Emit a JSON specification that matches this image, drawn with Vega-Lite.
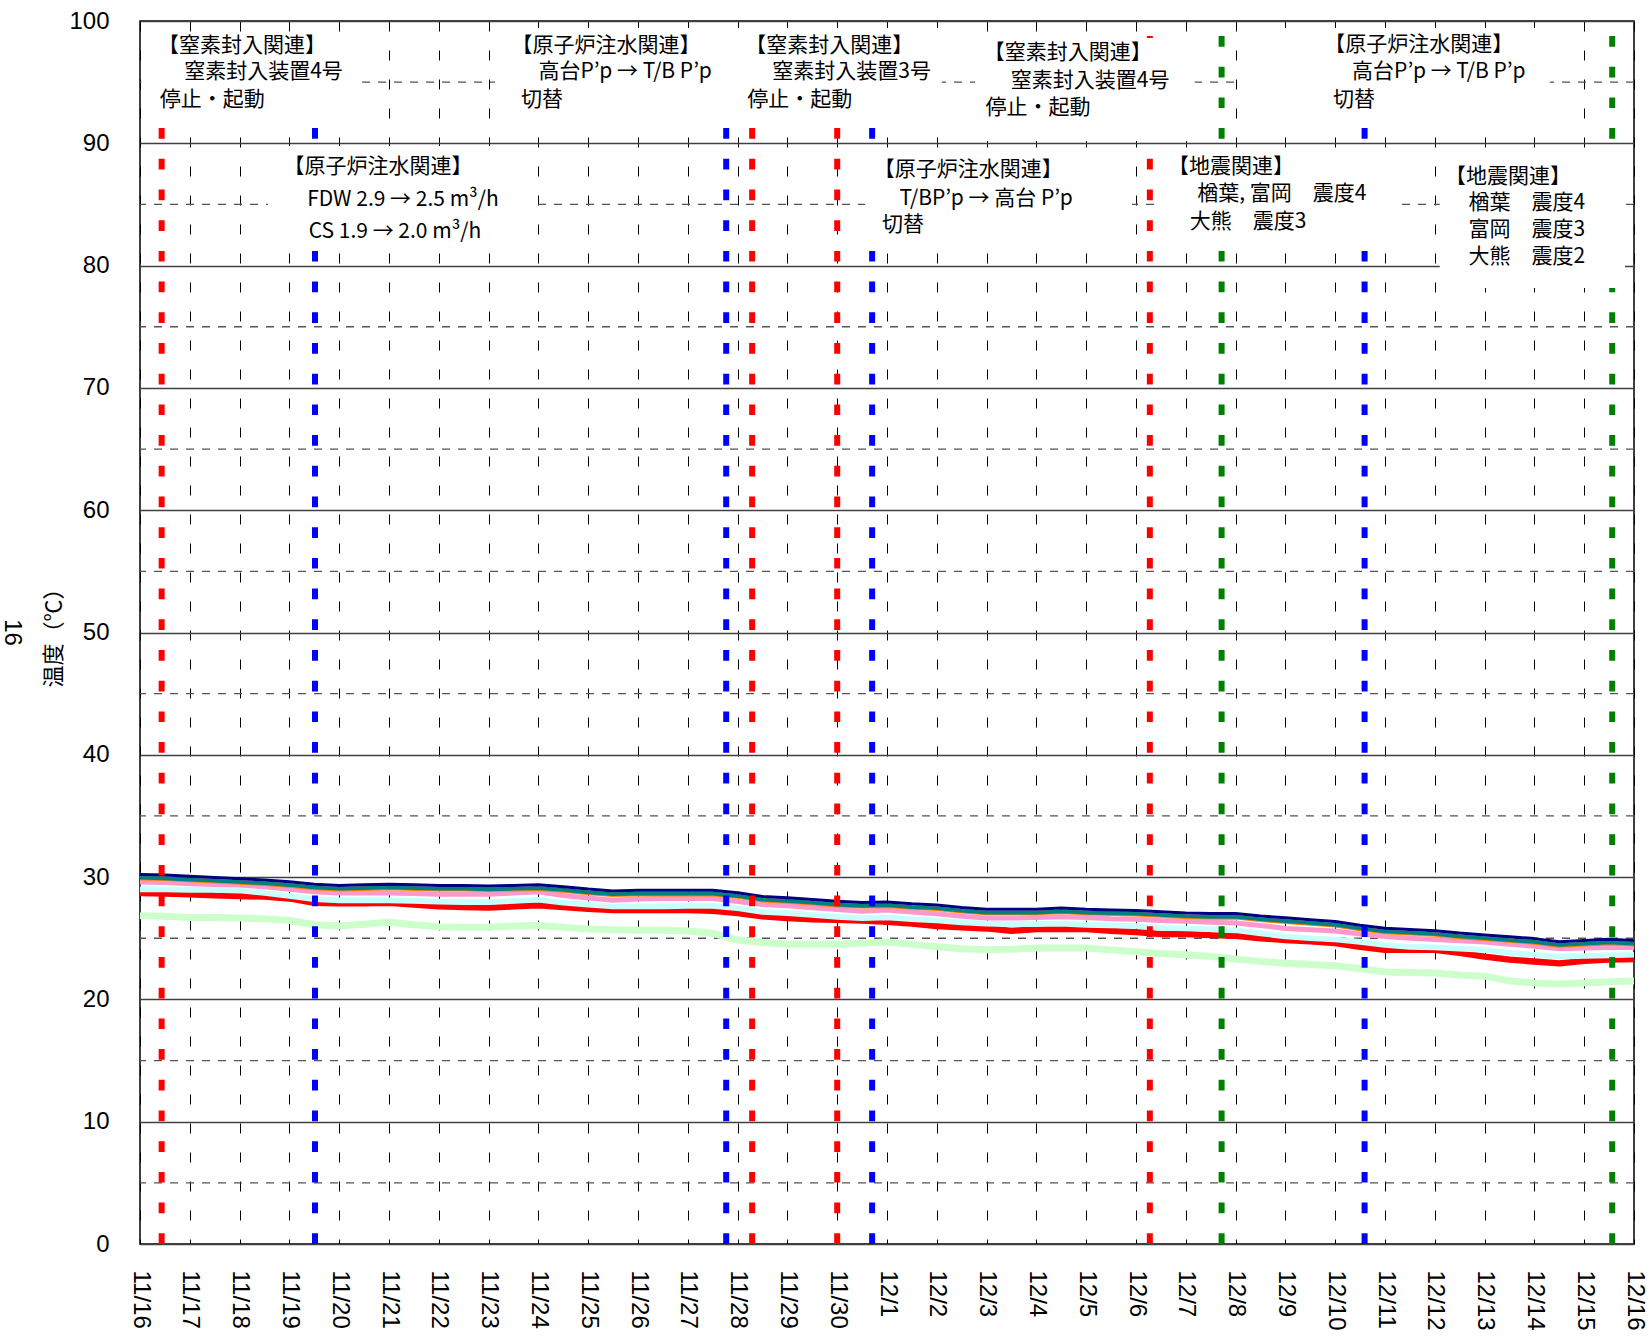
{
  "$schema": "https://vega.github.io/schema/vega-lite/v6.json",
  "width": 1494,
  "height": 1223,
  "autosize": "none",
  "padding": {"left": 140, "top": 21, "right": 17, "bottom": 96},
  "background": "white",
  "title": {"text": "16", "orient": "left", "angle": 90, "baseline": "middle", "anchor": "middle", "offset": 6, "fontSize": 24, "font": "Liberation Sans", "fontWeight": "normal", "color": "#000"},
  "config": {
    "view": {"stroke": "#000", "strokeWidth": 1.5},
    "axis": {"labelColor": "#000", "titleColor": "#000"}
  },
  "resolve": {"scale": {"color": "independent", "size": "independent"}},
  "datasets": {
    "series": [
      {"t":"2013-11-16T00:00","green":26.85,"red":28.7,"cyan":29.0,"pink":29.6,"orange":29.9,"teal":29.95,"navy":30.22},
      {"t":"2013-11-16T12:00","green":26.8,"red":28.65,"cyan":29.0,"pink":29.55,"orange":29.85,"teal":29.9,"navy":30.17},
      {"t":"2013-11-17T00:00","green":26.7,"red":28.6,"cyan":28.95,"pink":29.45,"orange":29.75,"teal":29.8,"navy":30.07},
      {"t":"2013-11-17T12:00","green":26.7,"red":28.5,"cyan":28.95,"pink":29.4,"orange":29.65,"teal":29.7,"navy":29.97},
      {"t":"2013-11-18T00:00","green":26.65,"red":28.45,"cyan":28.9,"pink":29.35,"orange":29.55,"teal":29.6,"navy":29.87},
      {"t":"2013-11-18T12:00","green":26.6,"red":28.4,"cyan":28.7,"pink":29.2,"orange":29.45,"teal":29.5,"navy":29.77},
      {"t":"2013-11-19T00:00","green":26.45,"red":28.25,"cyan":28.45,"pink":29.0,"orange":29.3,"teal":29.35,"navy":29.62},
      {"t":"2013-11-19T12:00","green":26.1,"red":27.9,"cyan":28.2,"pink":28.8,"orange":29.1,"teal":29.15,"navy":29.42},
      {"t":"2013-11-20T00:00","green":26.0,"red":27.85,"cyan":28.1,"pink":28.7,"orange":29.0,"teal":29.05,"navy":29.32},
      {"t":"2013-11-20T12:00","green":26.15,"red":27.85,"cyan":28.1,"pink":28.7,"orange":29.05,"teal":29.1,"navy":29.37},
      {"t":"2013-11-21T00:00","green":26.3,"red":27.9,"cyan":28.1,"pink":28.7,"orange":29.1,"teal":29.15,"navy":29.42},
      {"t":"2013-11-21T12:00","green":26.1,"red":27.75,"cyan":28.05,"pink":28.65,"orange":29.05,"teal":29.1,"navy":29.37},
      {"t":"2013-11-22T00:00","green":25.95,"red":27.6,"cyan":28.0,"pink":28.6,"orange":29.0,"teal":29.05,"navy":29.32},
      {"t":"2013-11-22T12:00","green":25.9,"red":27.55,"cyan":27.95,"pink":28.6,"orange":29.0,"teal":29.05,"navy":29.32},
      {"t":"2013-11-23T00:00","green":25.9,"red":27.5,"cyan":27.95,"pink":28.6,"orange":28.95,"teal":29.0,"navy":29.27},
      {"t":"2013-11-23T12:00","green":26.0,"red":27.6,"cyan":28.05,"pink":28.7,"orange":29.0,"teal":29.05,"navy":29.32},
      {"t":"2013-11-24T00:00","green":26.05,"red":27.7,"cyan":28.15,"pink":28.8,"orange":29.05,"teal":29.1,"navy":29.37},
      {"t":"2013-11-24T12:00","green":25.9,"red":27.55,"cyan":27.9,"pink":28.5,"orange":28.9,"teal":28.95,"navy":29.22},
      {"t":"2013-11-25T00:00","green":25.75,"red":27.4,"cyan":27.75,"pink":28.3,"orange":28.7,"teal":28.75,"navy":29.02},
      {"t":"2013-11-25T12:00","green":25.7,"red":27.3,"cyan":27.6,"pink":28.1,"orange":28.55,"teal":28.6,"navy":28.87},
      {"t":"2013-11-26T00:00","green":25.65,"red":27.3,"cyan":27.6,"pink":28.2,"orange":28.6,"teal":28.65,"navy":28.92},
      {"t":"2013-11-26T12:00","green":25.65,"red":27.3,"cyan":27.6,"pink":28.25,"orange":28.6,"teal":28.65,"navy":28.92},
      {"t":"2013-11-27T00:00","green":25.6,"red":27.3,"cyan":27.65,"pink":28.25,"orange":28.6,"teal":28.65,"navy":28.92},
      {"t":"2013-11-27T12:00","green":25.4,"red":27.25,"cyan":27.65,"pink":28.25,"orange":28.6,"teal":28.65,"navy":28.92},
      {"t":"2013-11-28T00:00","green":24.85,"red":27.05,"cyan":27.45,"pink":28.0,"orange":28.4,"teal":28.45,"navy":28.72},
      {"t":"2013-11-28T12:00","green":24.65,"red":26.8,"cyan":27.15,"pink":27.75,"orange":28.1,"teal":28.15,"navy":28.42},
      {"t":"2013-11-29T00:00","green":24.5,"red":26.65,"cyan":27.05,"pink":27.65,"orange":28.0,"teal":28.05,"navy":28.32},
      {"t":"2013-11-29T12:00","green":24.5,"red":26.55,"cyan":26.9,"pink":27.5,"orange":27.85,"teal":27.9,"navy":28.17},
      {"t":"2013-11-30T00:00","green":24.5,"red":26.5,"cyan":26.75,"pink":27.35,"orange":27.7,"teal":27.75,"navy":28.02},
      {"t":"2013-11-30T12:00","green":24.6,"red":26.45,"cyan":26.65,"pink":27.2,"orange":27.6,"teal":27.65,"navy":27.92},
      {"t":"2013-12-01T00:00","green":24.7,"red":26.35,"cyan":26.7,"pink":27.3,"orange":27.65,"teal":27.7,"navy":27.97},
      {"t":"2013-12-01T12:00","green":24.5,"red":26.2,"cyan":26.55,"pink":27.15,"orange":27.5,"teal":27.55,"navy":27.82},
      {"t":"2013-12-02T00:00","green":24.3,"red":26.0,"cyan":26.45,"pink":27.0,"orange":27.4,"teal":27.45,"navy":27.72},
      {"t":"2013-12-02T12:00","green":24.15,"red":25.9,"cyan":26.3,"pink":26.8,"orange":27.2,"teal":27.25,"navy":27.52},
      {"t":"2013-12-03T00:00","green":24.05,"red":25.8,"cyan":26.2,"pink":26.65,"orange":27.05,"teal":27.1,"navy":27.37},
      {"t":"2013-12-03T12:00","green":24.1,"red":25.6,"cyan":26.15,"pink":26.65,"orange":27.05,"teal":27.1,"navy":27.37},
      {"t":"2013-12-04T00:00","green":24.2,"red":25.75,"cyan":26.15,"pink":26.7,"orange":27.05,"teal":27.1,"navy":27.37},
      {"t":"2013-12-04T12:00","green":24.2,"red":25.75,"cyan":26.2,"pink":26.75,"orange":27.15,"teal":27.2,"navy":27.47},
      {"t":"2013-12-05T00:00","green":24.2,"red":25.75,"cyan":26.1,"pink":26.7,"orange":27.05,"teal":27.1,"navy":27.37},
      {"t":"2013-12-05T12:00","green":24.05,"red":25.6,"cyan":26.05,"pink":26.6,"orange":27.0,"teal":27.05,"navy":27.32},
      {"t":"2013-12-06T00:00","green":23.9,"red":25.5,"cyan":26.0,"pink":26.55,"orange":26.95,"teal":27.0,"navy":27.27},
      {"t":"2013-12-06T12:00","green":23.75,"red":25.35,"cyan":25.85,"pink":26.45,"orange":26.85,"teal":26.9,"navy":27.17},
      {"t":"2013-12-07T00:00","green":23.65,"red":25.35,"cyan":25.8,"pink":26.4,"orange":26.75,"teal":26.8,"navy":27.07},
      {"t":"2013-12-07T12:00","green":23.5,"red":25.25,"cyan":25.75,"pink":26.3,"orange":26.7,"teal":26.75,"navy":27.02},
      {"t":"2013-12-08T00:00","green":23.3,"red":25.2,"cyan":25.65,"pink":26.25,"orange":26.7,"teal":26.75,"navy":27.02},
      {"t":"2013-12-08T12:00","green":23.1,"red":25.0,"cyan":25.4,"pink":26.05,"orange":26.5,"teal":26.55,"navy":26.82},
      {"t":"2013-12-09T00:00","green":22.95,"red":24.85,"cyan":25.15,"pink":25.8,"orange":26.35,"teal":26.4,"navy":26.67},
      {"t":"2013-12-09T12:00","green":22.85,"red":24.75,"cyan":25.0,"pink":25.7,"orange":26.2,"teal":26.25,"navy":26.52},
      {"t":"2013-12-10T00:00","green":22.75,"red":24.6,"cyan":24.9,"pink":25.6,"orange":26.05,"teal":26.1,"navy":26.37},
      {"t":"2013-12-10T12:00","green":22.5,"red":24.3,"cyan":24.7,"pink":25.35,"orange":25.75,"teal":25.8,"navy":26.07},
      {"t":"2013-12-11T00:00","green":22.25,"red":24.05,"cyan":24.45,"pink":25.15,"orange":25.5,"teal":25.55,"navy":25.82},
      {"t":"2013-12-11T12:00","green":22.2,"red":24.05,"cyan":24.3,"pink":25.0,"orange":25.4,"teal":25.45,"navy":25.72},
      {"t":"2013-12-12T00:00","green":22.15,"red":24.05,"cyan":24.25,"pink":24.9,"orange":25.3,"teal":25.35,"navy":25.62},
      {"t":"2013-12-12T12:00","green":22.0,"red":23.8,"cyan":24.15,"pink":24.8,"orange":25.1,"teal":25.15,"navy":25.42},
      {"t":"2013-12-13T00:00","green":21.9,"red":23.5,"cyan":24.05,"pink":24.7,"orange":24.95,"teal":25.0,"navy":25.27},
      {"t":"2013-12-13T12:00","green":21.5,"red":23.25,"cyan":23.8,"pink":24.5,"orange":24.8,"teal":24.85,"navy":25.12},
      {"t":"2013-12-14T00:00","green":21.35,"red":23.1,"cyan":23.65,"pink":24.35,"orange":24.65,"teal":24.7,"navy":24.97},
      {"t":"2013-12-14T12:00","green":21.25,"red":22.95,"cyan":23.5,"pink":24.15,"orange":24.4,"teal":24.45,"navy":24.72},
      {"t":"2013-12-15T00:00","green":21.35,"red":23.15,"cyan":23.55,"pink":24.2,"orange":24.5,"teal":24.55,"navy":24.82},
      {"t":"2013-12-15T12:00","green":21.45,"red":23.25,"cyan":23.6,"pink":24.25,"orange":24.6,"teal":24.65,"navy":24.92},
      {"t":"2013-12-16T00:00","green":21.5,"red":23.3,"cyan":23.65,"pink":24.25,"orange":24.5,"teal":24.55,"navy":24.82}
    ],
    "events": [
      {"t":"2013-11-16T10:26","kind":"窒素"},
      {"t":"2013-11-19T12:20","kind":"注水"},
      {"t":"2013-11-27T18:30","kind":"注水"},
      {"t":"2013-11-28T07:00","kind":"窒素"},
      {"t":"2013-11-30T00:00","kind":"窒素"},
      {"t":"2013-11-30T16:50","kind":"注水"},
      {"t":"2013-12-06T06:40","kind":"窒素"},
      {"t":"2013-12-07T17:15","kind":"地震"},
      {"t":"2013-12-10T14:10","kind":"注水"},
      {"t":"2013-12-15T13:30","kind":"地震"}
    ],
    "boxes": [
      {"t1":"2013-11-16T00:40","t2":"2013-11-20T11:00","v1":91.25,"v2":99.1},
      {"t1":"2013-11-18T13:40","t2":"2013-11-23T23:20","v1":81.28,"v2":89.78},
      {"t1":"2013-11-23T03:07","t2":"2013-12-02T02:24","v1":91.25,"v2":99.43},
      {"t1":"2013-11-30T13:26","t2":"2013-12-05T22:05","v1":81.68,"v2":89.45},
      {"t1":"2013-12-02T18:29","t2":"2013-12-07T04:19","v1":90.19,"v2":98.61},
      {"t1":"2013-12-08T02:10","t2":"2013-12-14T07:26","v1":91.25,"v2":99.43},
      {"t1":"2013-12-06T12:00","t2":"2013-12-11T07:12","v1":81.68,"v2":89.45},
      {"t1":"2013-12-12T02:24","t2":"2013-12-15T19:41","v1":78.17,"v2":89.04}
    ],
    "notes": [
      {"t":"2013-11-18T01:12","v":97.96,"text":"【窒素封入関連】"},
      {"t":"2013-11-18T11:31","v":95.83,"text":"窒素封入装置4号"},
      {"t":"2013-11-17T10:48","v":93.54,"text":"停止・起動"},
      {"t":"2013-11-20T18:43","v":88.06,"text":"【原子炉注水関連】"},
      {"t":"2013-11-21T06:43","v":85.36,"text":"FDW 2.9 → 2.5 m³/h"},
      {"t":"2013-11-21T02:53","v":82.75,"text":"CS 1.9 → 2.0 m³/h"},
      {"t":"2013-11-25T08:38","v":97.96,"text":"【原子炉注水関連】"},
      {"t":"2013-11-25T17:46","v":95.83,"text":"高台P’p → T/B P’p"},
      {"t":"2013-11-24T01:41","v":93.54,"text":"切替"},
      {"t":"2013-11-29T20:10","v":97.96,"text":"【窒素封入関連】"},
      {"t":"2013-11-30T06:58","v":95.83,"text":"窒素封入装置3号"},
      {"t":"2013-11-29T06:00","v":93.54,"text":"停止・起動"},
      {"t":"2013-12-02T15:07","v":87.82,"text":"【原子炉注水関連】"},
      {"t":"2013-12-02T23:46","v":85.45,"text":"T/BP’p → 高台 P’p"},
      {"t":"2013-12-01T07:41","v":83.32,"text":"切替"},
      {"t":"2013-12-04T15:07","v":97.38,"text":"【窒素封入関連】"},
      {"t":"2013-12-05T01:55","v":95.09,"text":"窒素封入装置4号"},
      {"t":"2013-12-04T00:43","v":92.89,"text":"停止・起動"},
      {"t":"2013-12-11T16:19","v":98.04,"text":"【原子炉注水関連】"},
      {"t":"2013-12-12T01:55","v":95.83,"text":"高台P’p → T/B P’p"},
      {"t":"2013-12-10T09:07","v":93.54,"text":"切替"},
      {"t":"2013-12-07T21:50","v":88.06,"text":"【地震関連】"},
      {"t":"2013-12-08T22:19","v":85.85,"text":"楢葉, 富岡　震度4"},
      {"t":"2013-12-08T06:00","v":83.57,"text":"大熊　震度3"},
      {"t":"2013-12-13T11:17","v":87.24,"text":"【地震関連】"},
      {"t":"2013-12-13T20:24","v":85.12,"text":"楢葉　震度4"},
      {"t":"2013-12-13T20:24","v":82.91,"text":"富岡　震度3"},
      {"t":"2013-12-13T20:24","v":80.70,"text":"大熊　震度2"}
    ],
    "minor": [{"v":5},{"v":15},{"v":25},{"v":35},{"v":45},{"v":55},{"v":65},{"v":75},{"v":85},{"v":95}]
  },
  "encoding": {
    "x": {
      "field": "t", "type": "temporal",
      "scale": {"domain": [{"year": 2013, "month": 11, "date": 16}, {"year": 2013, "month": 12, "date": 16}], "nice": false},
      "axis": {
        "title": null, "format": "%-m/%-d", "tickCount": {"interval": "day", "step": 1},
        "labelAngle": 90, "labelAlign": "left", "labelBaseline": "middle",
        "labelFont": "Liberation Sans", "labelFontSize": 24, "labelPadding": 26,
        "ticks": false, "tickSize": 0, "domain": false, "labelOverlap": false, "labelFlush": false,
        "grid": true, "gridColor": "#000", "gridWidth": 1, "gridDash": [10, 19], "gridOpacity": 1
      }
    },
    "y": {
      "field": "v", "type": "quantitative",
      "scale": {"domain": [0, 100], "nice": false, "zero": true},
      "axis": {
        "title": "温度（℃）", "titleFont": "Noto Sans CJK JP", "titleFontSize": 22, "titleFontWeight": "normal",
        "titleAngle": 270, "titleX": -87, "titleY": 611, "titleAlign": "center", "titleBaseline": "middle",
        "values": [0, 10, 20, 30, 40, 50, 60, 70, 80, 90, 100],
        "labelFont": "Liberation Sans", "labelFontSize": 24, "labelPadding": 31,
        "ticks": false, "tickSize": 0, "domain": false, "labelFlush": false,
        "grid": true, "gridColor": "#404040", "gridWidth": 1.3, "gridOpacity": 1
      }
    }
  },
  "layer": [
    {
      "data": {"name": "minor"},
      "mark": {"type": "rule", "color": "#555", "strokeWidth": 1.3, "strokeDash": [8, 8]},
      "encoding": {"x": null, "y": {"field": "v", "type": "quantitative"}}
    },
    {
      "data": {"name": "series"},
      "transform": [{"fold": ["green", "red", "cyan", "pink", "orange", "teal", "navy"], "as": ["series", "v"]}],
      "mark": {"type": "line", "strokeCap": "butt", "strokeJoin": "round"},
      "encoding": {
        "color": {"field": "series", "type": "nominal", "legend": null,
          "scale": {"domain": ["green", "red", "cyan", "pink", "orange", "teal", "navy"],
                    "range": ["#ccffcc", "#ff0000", "#c8ffff", "#ff99cc", "#ff8000", "#008080", "#000080"]}},
        "size": {"field": "series", "type": "nominal", "legend": null,
          "scale": {"domain": ["green", "red", "cyan", "pink", "orange", "teal", "navy"],
                    "range": [7, 3, 7, 8, 1.5, 4.5, 6]}}
      }
    },
    {
      "data": {"name": "events"},
      "mark": {"type": "rule", "strokeWidth": 6, "strokeDash": [10.7, 20], "strokeDashOffset": 15.7, "strokeCap": "butt"},
      "encoding": {
        "y": null,
        "color": {"field": "kind", "type": "nominal", "legend": null,
          "scale": {"domain": ["窒素", "注水", "地震"], "range": ["#ff0000", "#0000ff", "#008000"]}}
      }
    },
    {
      "data": {"name": "boxes"},
      "mark": {"type": "rect", "fill": "white", "stroke": null},
      "encoding": {
        "x": {"field": "t1", "type": "temporal"},
        "x2": {"field": "t2"},
        "y": {"field": "v1", "type": "quantitative"},
        "y2": {"field": "v2"}
      }
    },
    {
      "data": {"name": "notes"},
      "mark": {"type": "text", "font": "Noto Sans CJK JP", "fontSize": 21, "color": "#000", "align": "center", "baseline": "middle"},
      "encoding": {"text": {"field": "text"}}
    }
  ]
}
